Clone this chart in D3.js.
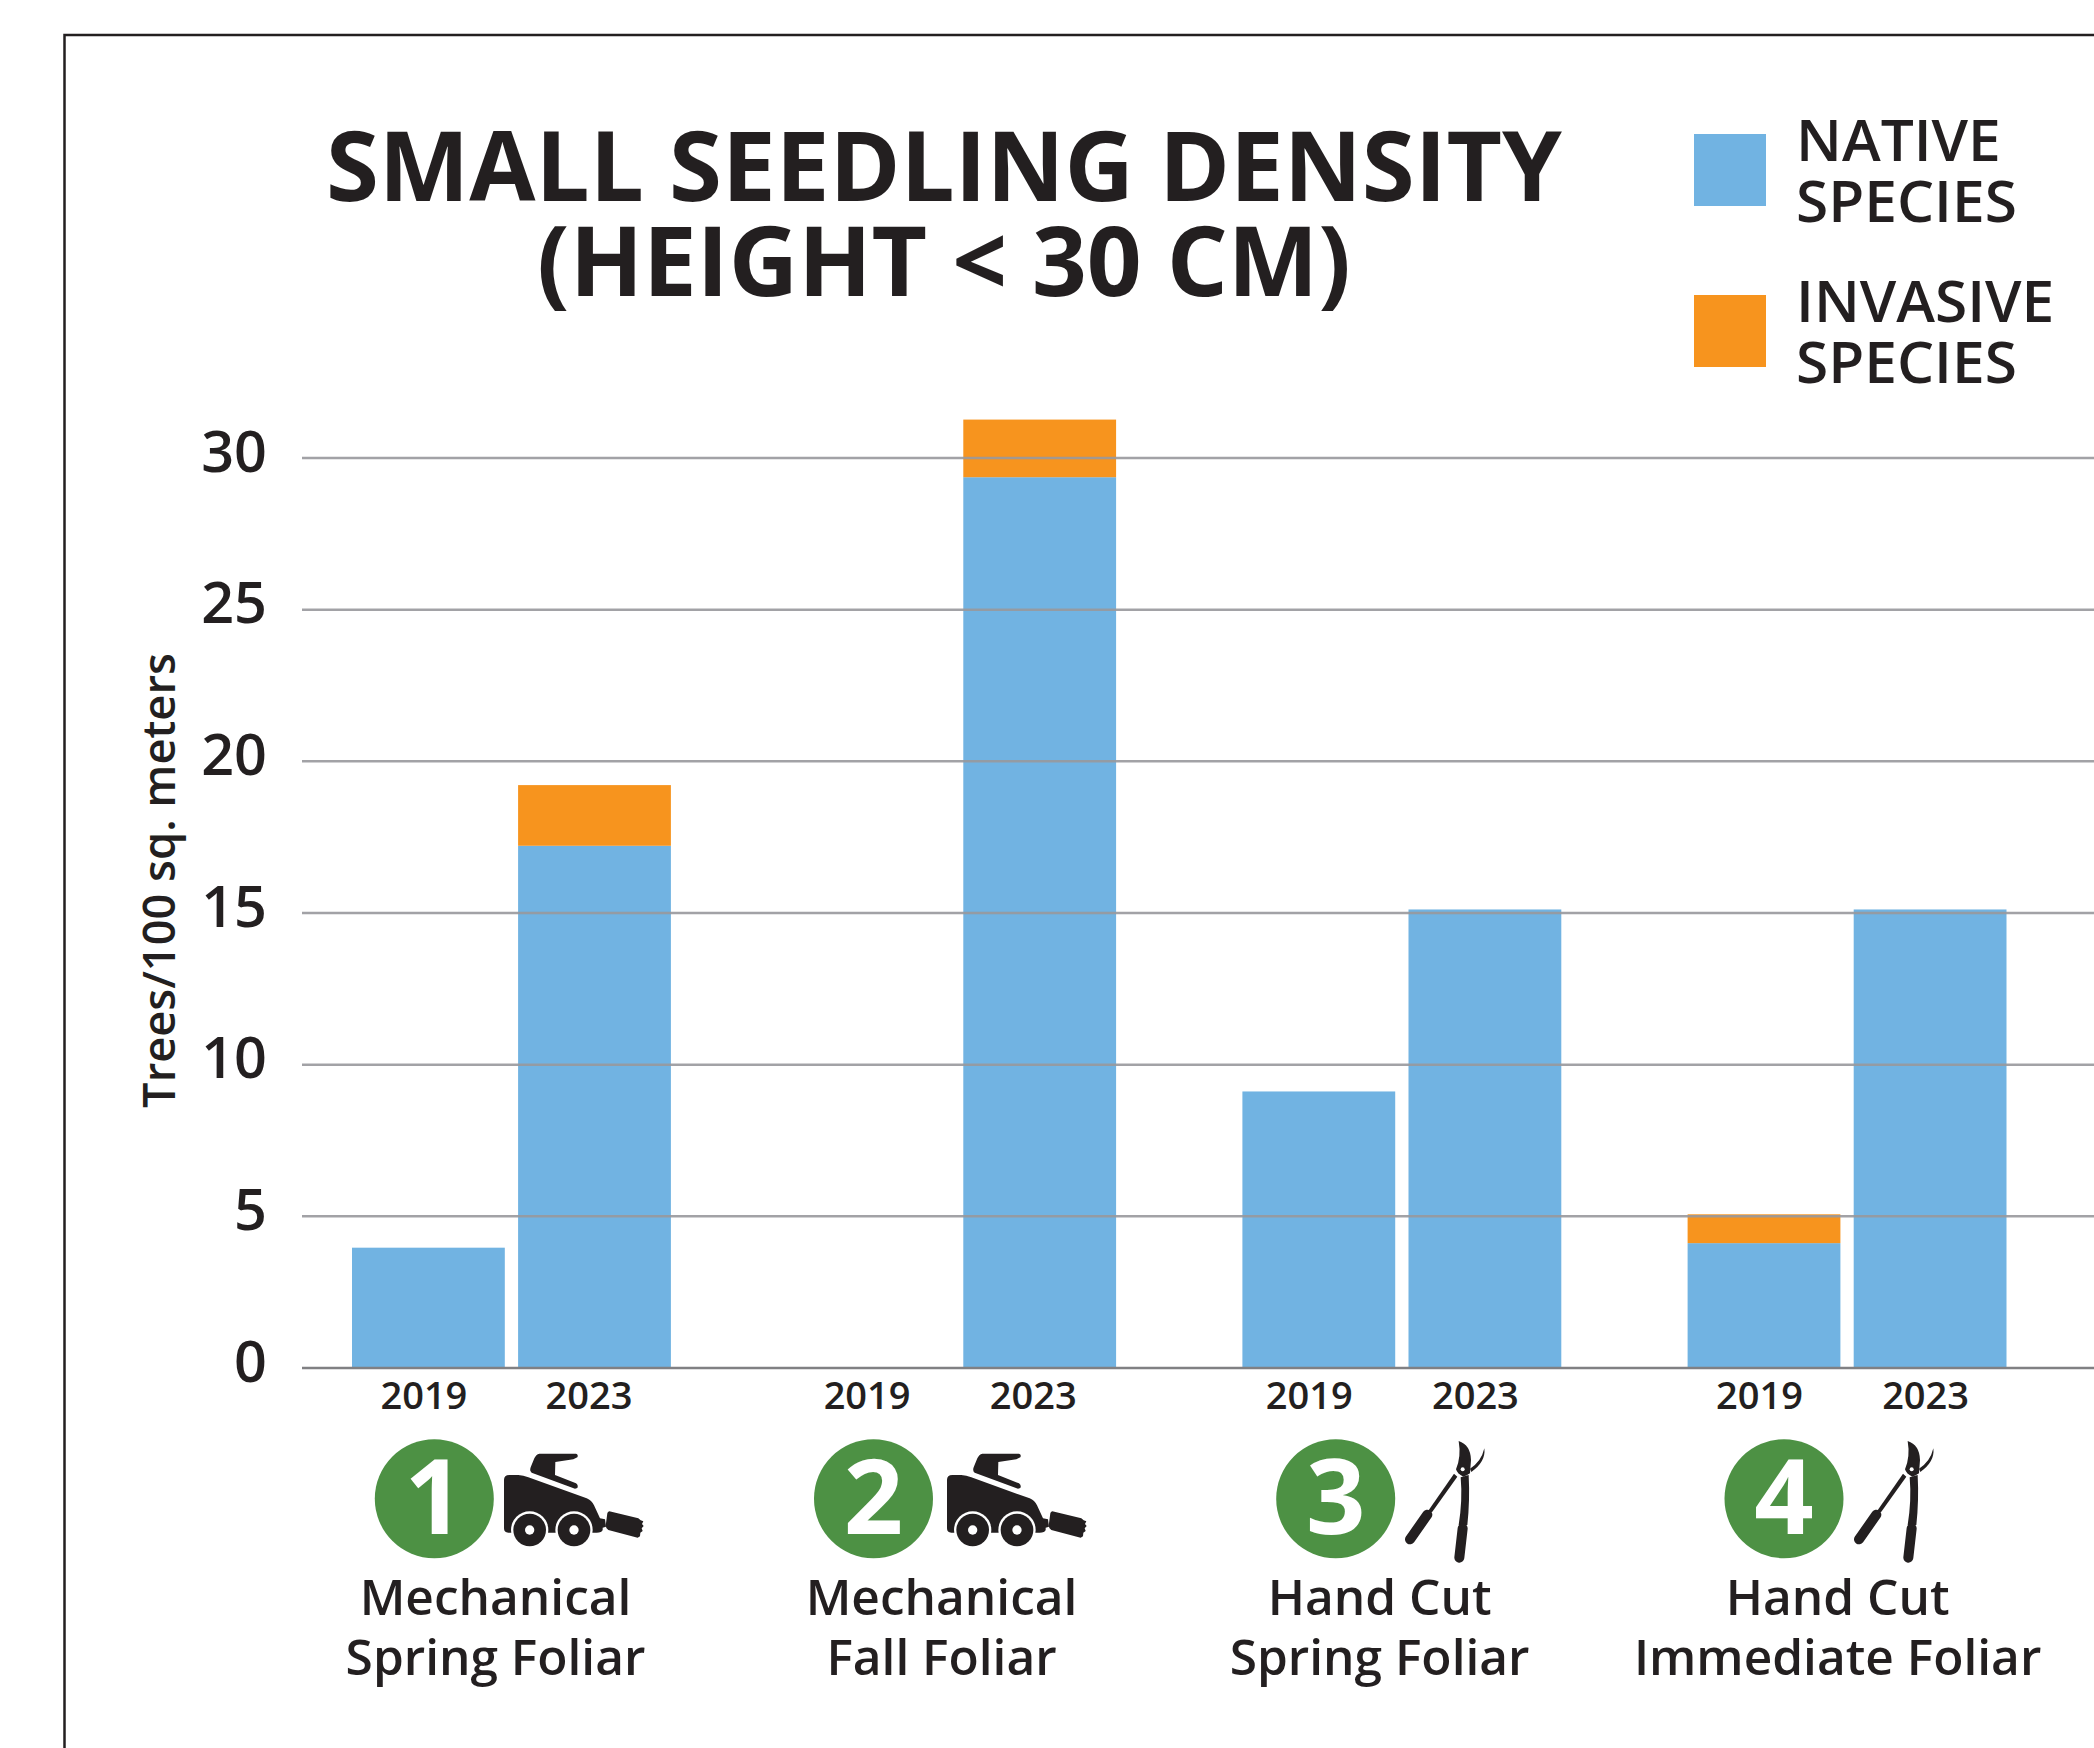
<!DOCTYPE html>
<html>
<head>
  <title>Small Seedling Density</title>
  <script src="https://d3js.org/d3.v7.min.js" charset="utf-8"></script>
  <style>
    html, body { margin: 0; padding: 0; background: #fff; overflow: hidden; }
    svg { display: block; }
    text { font-family: "Open Sans", "Noto Sans", sans-serif; fill: #231f20; }
  </style>
</head>
<body>
<script>
// chart values
var treatments = ["1", "2", "3", "4"];
var years = ["2019", "2023"];
var native2019 = [3.95, 0, 9.1, 4.1];
var native2023 = [17.2, 29.35, 15.1, 15.1];
var invasive2019 = [0, 0, 0, 0.95];
var invasive2023 = [2, 1.9, 0, 0];
var yTicks = [0, 5, 10, 15, 20, 25, 30];
var titleLines = ["SMALL SEEDLING DENSITY", "(HEIGHT < 30 CM)"];
var legendLabels = [["NATIVE", "SPECIES"], ["INVASIVE", "SPECIES"]];
var labelLines = [
  ["Mechanical", "Spring Foliar"],
  ["Mechanical", "Fall Foliar"],
  ["Hand Cut", "Spring Foliar"],
  ["Hand Cut", "Immediate Foliar"]
];
var icons = ["#skid", "#skid", "#pruner", "#pruner"];

var width = 2094;
var height = 1748;
var blue = "#71b3e2";
var orange = "#f7941e";
var green = "#4d9144";
var ink = "#231f20";

var svg = d3.select("body")
    .append("svg")
    .attr("width", width)
    .attr("height", height);

// icons are drawn in 3x units, origin at the top left of the reference crop
var defs = svg.append("defs");

var skid = defs.append("g").attr("id", "skid");
skid.append("path").attr("fill", ink)
    .attr("d", "M492,360 Q492,345 508,345 L535,345 Q550,346 565,352 L740,415 Q755,421 762,436 L780,475 L795,478 L798,500 L788,503 L788,510 Q785,518 770,518 L505,518 Q492,518 492,505 Z");
skid.append("path").attr("fill", ink)
    .attr("d", "M598,281 L708,281 Q716,284 712,292 L700,298 L646,306 L645,345 L708,370 Q716,376 712,384 L705,386 L575,338 Q568,333 572,322 L583,295 Q588,283 598,281 Z");
skid.append("path").attr("fill", ink)
    .attr("d", "M808,454 L895,475 L902,481 L910,484 L906,492 L911,498 L905,505 L908,513 L901,518 L900,529 L893,533 L805,510 Q795,505 798,490 L802,460 Q803,455 808,454 Z");
[569, 702].forEach(function(cx) {
  skid.append("circle").attr("cx", cx).attr("cy", 510).attr("r", 56).attr("fill", "#fff");
  skid.append("circle").attr("cx", cx).attr("cy", 510).attr("r", 49).attr("fill", ink);
  skid.append("circle").attr("cx", cx).attr("cy", 510).attr("r", 14).attr("fill", "#fff");
});

var pruner = defs.append("g").attr("id", "pruner");
pruner.append("path").attr("fill", ink)
    .attr("d", "M656,243 Q692,255 693,300 L690,340 Q680,347 670,350 Q652,342 648,328 Q664,290 656,243 Z");
pruner.append("path").attr("fill", ink)
    .attr("d", "M733,265 Q738,305 694,336 L690,326 Q724,305 733,265 Z");
pruner.append("path").attr("fill", ink)
    .attr("d", "M642,341 L652,350 L577,455 L558,462 Z");
pruner.append("path").attr("fill", ink)
    .attr("d", "M662,352 L686,345 Q690,420 682,495 L656,495 Q668,420 662,352 Z");
pruner.append("line").attr("x1", 562).attr("y1", 464).attr("x2", 510).attr("y2", 538)
    .attr("stroke", ink).attr("stroke-width", 30).attr("stroke-linecap", "round");
pruner.append("line").attr("x1", 668).attr("y1", 505).attr("x2", 658).attr("y2", 593)
    .attr("stroke", ink).attr("stroke-width", 30).attr("stroke-linecap", "round");
pruner.append("circle").attr("cx", 668).attr("cy", 328).attr("r", 6).attr("fill", "#fff");

// frame runs off the right and bottom edge
svg.append("path")
    .attr("d", "M64.5," + height + " V35 H" + width)
    .attr("fill", "none")
    .attr("stroke", ink)
    .attr("stroke-width", 2.5);

var x = d3.scaleBand()
    .domain(treatments)
    .range([352, 2006.5])
    .paddingInner(0.2837)
    .paddingOuter(0);

var xYear = d3.scaleBand()
    .domain(years)
    .range([0, x.bandwidth()])
    .paddingInner(0.08)
    .paddingOuter(0);

var y = d3.scaleLinear()
    .domain([0, 30])
    .range([1367.5, 457.5]);

// flatten the arrays to one row per bar
var rows = [];
treatments.forEach(function(t, i) {
  rows.push({ t: t, year: "2019", native: native2019[i], invasive: invasive2019[i] });
  rows.push({ t: t, year: "2023", native: native2023[i], invasive: invasive2023[i] });
});

var stack = d3.stack().keys(["native", "invasive"]);
var layers = stack(rows);
var colors = { native: blue, invasive: orange };

svg.selectAll(".layer")
    .data(layers)
    .enter()
    .append("g")
    .attr("class", "layer")
    .attr("fill", function(d) { return colors[d.key]; })
    .selectAll("rect")
    .data(function(d) { return d; })
    .enter()
    .append("rect")
    .attr("x", function(d) { return x(d.data.t) + xYear(d.data.year); })
    .attr("y", function(d) { return y(d[1]); })
    .attr("width", xYear.bandwidth())
    .attr("height", function(d) { return y(d[0]) - y(d[1]); });

// gridlines sit on top of the bars
var yAxis = d3.axisLeft(y)
    .tickValues(yTicks)
    .tickSize(-(width - 302))
    .tickPadding(35);

var gy = svg.append("g")
    .attr("transform", "translate(302,0)")
    .call(yAxis);

gy.select(".domain").remove();
gy.selectAll(".tick line")
    .attr("stroke", function(d) { return d === 0 ? "#808083" : "#98989c"; })
    .attr("stroke-opacity", function(d) { return d === 0 ? 1 : 0.9; })
    .attr("stroke-width", 2.5);
gy.selectAll(".tick text")
    .attr("dy", null)
    .attr("y", 13.5)
    .style("font-size", "57.5px")
    .style("font-weight", 600);

// year labels sit a little left of the bar centres in the original
var yearShift = [[-4.5, -5.5], [-6.5, -6.5], [-9.5, -9.5], [-4.5, -4.5]];
treatments.forEach(function(t, i) {
  years.forEach(function(yr, j) {
    svg.append("text")
        .attr("x", x(t) + xYear(yr) + xYear.bandwidth() / 2 + yearShift[i][j])
        .attr("y", 1409)
        .attr("text-anchor", "middle")
        .style("font-size", "38px")
        .style("font-weight", 600)
        .text(yr);
  });
});

// treatment badges, icons and labels
var badgeX = [434.3, 873.5, 1335.7, 1784];
var iconX = [340, 783, 1240, 1689];
var labelX = [495.5, 941.5, 1379.6, 1837.6];

treatments.forEach(function(t, i) {
  svg.append("circle")
      .attr("cx", badgeX[i])
      .attr("cy", 1498.7)
      .attr("r", 59.5)
      .attr("fill", green);
  svg.append("text")
      .attr("x", badgeX[i])
      .attr("y", 1534)
      .attr("text-anchor", "middle")
      .style("font-size", "104px")
      .style("font-weight", 700)
      .style("fill", "#fff")
      .text(t);
  svg.append("use")
      .attr("href", icons[i])
      .attr("transform", "translate(" + iconX[i] + ",1360) scale(" + (1 / 3) + ")");
  labelLines[i].forEach(function(line, j) {
    svg.append("text")
        .attr("x", labelX[i])
        .attr("y", 1615 + j * 60)
        .attr("text-anchor", "middle")
        .style("font-size", "49.6px")
        .style("font-weight", 600)
        .text(line);
  });
});

// title
titleLines.forEach(function(line, i) {
  svg.append("text")
      .attr("x", 944)
      .attr("y", 201 + i * 95)
      .attr("text-anchor", "middle")
      .style("font-size", "96px")
      .style("font-weight", 700)
      .text(line);
});

// legend
var legendY = [134, 295];
var legendColors = [blue, orange];
legendLabels.forEach(function(lines, i) {
  svg.append("rect")
      .attr("x", 1694)
      .attr("y", legendY[i])
      .attr("width", 72)
      .attr("height", 72)
      .attr("fill", legendColors[i]);
  lines.forEach(function(line, j) {
    svg.append("text")
        .attr("x", 1796)
        .attr("y", legendY[i] + 27 + j * 61)
        .style("font-size", "58.6px")
        .style("font-weight", 600)
        .text(line);
  });
});

// y axis title
svg.append("text")
    .attr("transform", "translate(175,880.5) rotate(-90)")
    .attr("text-anchor", "middle")
    .style("font-size", "45.2px")
    .style("font-weight", 600)
    .text("Trees/100 sq. meters");
</script>
</body>
</html>
